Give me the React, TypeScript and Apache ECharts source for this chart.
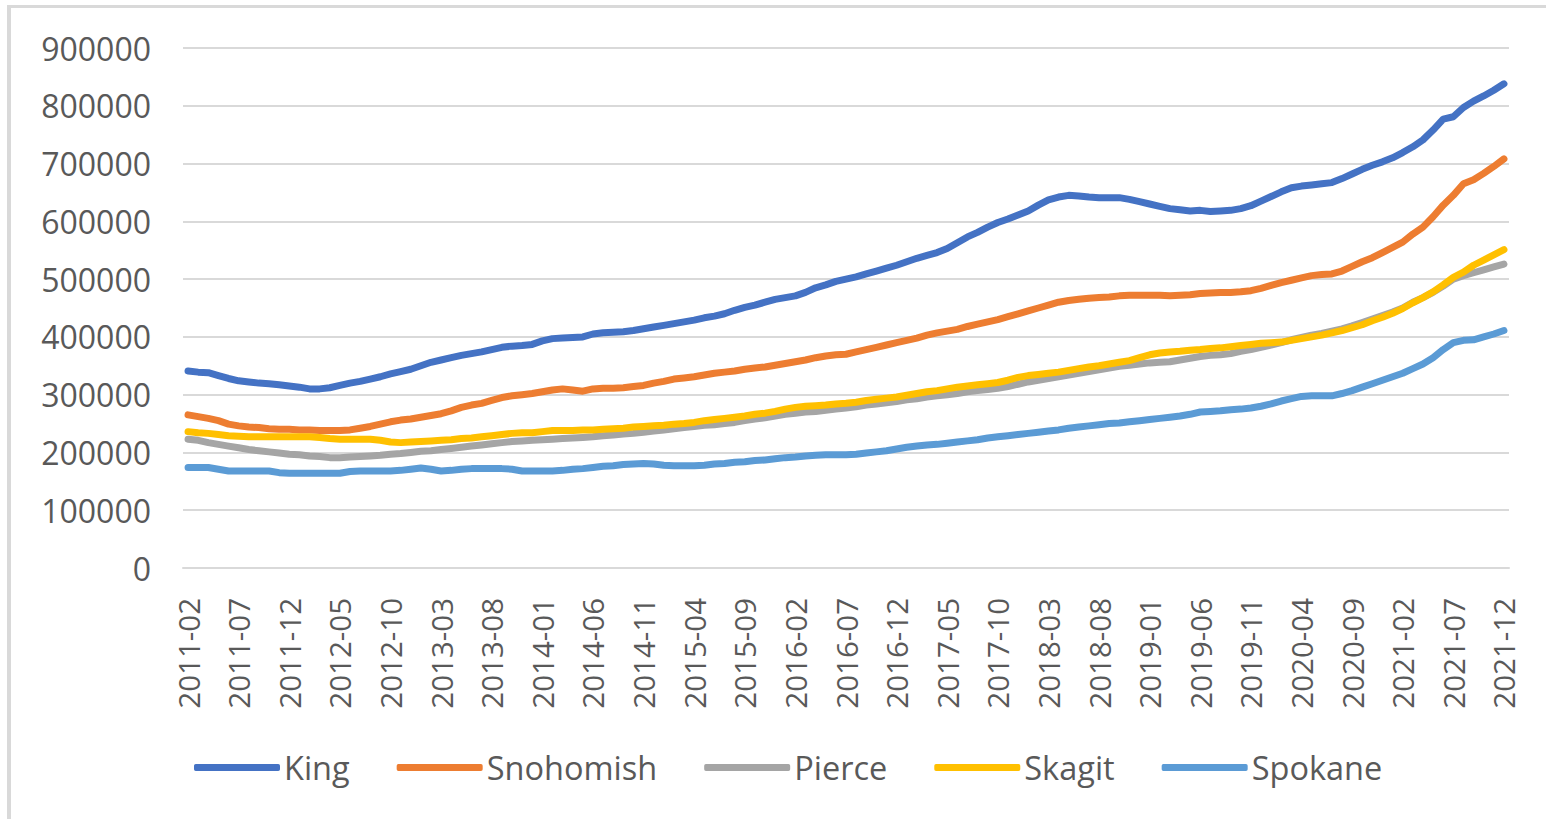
import React, { useEffect, useRef } from "react";
import * as echarts from "echarts";

const months: string[] = (() => {
  const out: string[] = [];
  let y = 2011;
  let m = 2;
  while (y < 2021 || (y === 2021 && m <= 12)) {
    out.push(`${y}-${m < 10 ? "0" + m : m}`);
    m++;
    if (m > 12) { m = 1; y++; }
  }
  return out;
})();

const seriesNames = ["King", "Snohomish", "Pierce", "Skagit", "Spokane"];
const seriesColors = ["#4472C4", "#ED7D31", "#A5A5A5", "#FFC000", "#5B9BD5"];

// values in thousands of dollars
const king = [
  341, 339, 338, 333, 328, 324, 322, 320, 319, 317,
  315, 313, 310, 310, 312, 316, 320, 323, 327, 331,
  336, 340, 344, 350, 356, 360, 364, 368, 371, 374,
  378, 382, 384, 385, 387, 393, 397, 398, 399, 400,
  405, 407, 408, 409, 411, 414, 417, 420, 423, 426,
  429, 433, 436, 440, 446, 451, 455, 460, 465, 468,
  471, 477, 485, 490, 496, 500, 504, 509, 514, 519,
  524, 530, 536, 541, 546, 553, 563, 573, 581, 590,
  598, 604, 611, 618, 628, 637, 642, 645, 644, 642,
  641, 641, 641, 638, 634, 630, 626, 622, 620, 618,
  619, 617, 618, 619, 622, 627, 635, 643, 651, 658,
  661, 663, 665, 667, 674, 682, 690, 697, 703, 710,
  719, 729, 741, 758, 777, 781, 797, 808, 817, 827,
  838,
];

const snohomish = [
  265, 262, 259, 255, 249, 246, 244, 243, 241, 240,
  240, 239, 239, 238, 238, 238, 239, 242, 245, 249,
  253, 256, 258, 261, 264, 267, 272, 278, 282, 285,
  290, 295, 298, 300, 302, 305, 308, 310, 308, 306,
  310, 311, 311, 312, 314, 316, 320, 323, 327, 329,
  331, 334, 337, 339, 341, 344, 346, 348, 351, 354,
  357, 360, 364, 367, 369, 370, 374, 378, 382, 386,
  390, 394, 398, 403, 407, 410, 413, 418, 422, 426,
  430, 435, 440, 445, 450, 455, 460, 463, 465, 467,
  468, 469, 471, 472, 472, 472, 472, 471, 472, 473,
  475, 476, 477, 477, 478, 480, 484, 489, 494, 498,
  502, 506, 508, 509, 514, 522, 530, 537, 546, 555,
  564, 578, 590, 608, 628, 645, 665, 672, 683, 695,
  708,
];

const pierce = [
  223, 221, 217, 214, 211, 208, 205, 203, 201, 199,
  197, 196, 194, 193, 191, 191, 192, 193, 194, 195,
  197, 198, 200, 202, 203, 205, 207, 209, 211, 213,
  215, 217, 219, 220, 221, 222, 223, 224, 225, 226,
  227, 229, 230, 232, 233, 235, 237, 239, 241, 243,
  245, 247, 248, 250, 252, 255, 258, 260, 263, 266,
  268, 270, 271, 273, 275, 277, 279, 282, 284, 286,
  288, 291, 293, 296, 298, 300, 302, 305, 307, 309,
  311, 314, 318, 322, 325, 328, 331, 334, 337, 340,
  343, 346, 349, 351, 353, 355, 356, 357, 360, 363,
  366, 368, 369, 371, 375, 378, 382, 386, 390, 395,
  399, 403, 406, 410, 414, 419, 425, 431, 437, 443,
  450, 460, 468, 477, 488, 500, 506, 511, 516, 521,
  526,
];

const skagit = [
  236, 234, 233, 231, 229, 228, 227, 227, 227, 227,
  227, 227, 227, 226, 224, 223, 223, 223, 223, 221,
  218, 217, 218, 219, 220, 221, 222, 224, 225, 227,
  229, 231, 233, 234, 234, 236, 238, 238, 238, 239,
  239, 240, 241, 242, 244, 245, 246, 247, 249, 250,
  252, 255, 257, 259, 261, 263, 266, 268, 271, 275,
  278, 280, 281, 282, 284, 285, 287, 290, 292, 294,
  296, 299, 302, 305, 307, 310, 313, 315, 317, 319,
  321, 325, 330, 333, 335, 337, 339, 342, 345, 348,
  350, 353, 356, 359, 364, 369, 372, 374, 375, 377,
  378, 380, 381, 383, 385, 387, 389, 390, 391, 394,
  397, 400, 403, 407, 411, 416, 421, 428, 434, 441,
  449, 459, 468, 478, 490, 503, 512, 524, 533, 542,
  551,
];

const spokane = [
  174, 174, 174, 171, 168, 168, 168, 168, 168, 165,
  164, 164, 164, 164, 164, 164, 167, 168, 168, 168,
  168, 169, 171, 173, 171, 168, 169, 171, 172, 172,
  172, 172, 171, 168, 168, 168, 168, 169, 171, 172,
  174, 176, 177, 179, 180, 181, 180, 178, 177, 177,
  177, 178, 180, 181, 183, 184, 186, 187, 189, 191,
  192, 194, 195, 196, 196, 196, 197, 199, 201, 203,
  206, 209, 211, 213, 214, 216, 218, 220, 222, 225,
  227, 229, 231, 233, 235, 237, 239, 242, 244, 246,
  248, 250, 251, 253, 255, 257, 259, 261, 263, 266,
  270, 271, 272, 274, 275, 277, 280, 284, 289, 293,
  297, 298, 298, 298, 302, 307, 313, 319, 325, 331,
  337, 345, 353, 364, 378, 390, 394, 395, 400, 405,
  411,
];

const seriesData = [king, snohomish, pierce, skagit, spokane];
const yTicks = { min: 0, max: 900000, interval: 100000 };

const FONT = "'Open Sans', 'Noto Sans', sans-serif";
const TEXT_COLOR = "#595959";
const GRID_COLOR = "#d9d9d9";

export default function App() {
  const ref = useRef<HTMLDivElement>(null);

  useEffect(() => {
    if (!ref.current) return;
    const chart = echarts.init(ref.current, undefined, { renderer: "svg" });
    chart.setOption({
      animation: false,
      backgroundColor: "#ffffff",
      textStyle: { fontFamily: FONT },
      grid: { left: 183, right: 37, top: 48, bottom: 251, containLabel: false },
      graphic: [
        {
          type: "line",
          shape: { x1: 7, y1: 6.5, x2: 1546, y2: 6.5 },
          style: { stroke: GRID_COLOR, lineWidth: 3 },
          silent: true,
        },
        {
          type: "line",
          shape: { x1: 9, y1: 5, x2: 9, y2: 819 },
          style: { stroke: GRID_COLOR, lineWidth: 4 },
          silent: true,
        },
      ],
      legend: {
        left: 189,
        top: 746,
        icon: "roundRect",
        itemWidth: 86,
        itemHeight: 7,
        itemGap: 47,
        data: seriesNames,
        textStyle: { color: TEXT_COLOR, fontSize: 32.5, fontFamily: FONT, padding: [0, 0, 0, -1] },
      },
      xAxis: {
        type: "category",
        data: months,
        boundaryGap: true,
        axisLine: { show: true, lineStyle: { color: GRID_COLOR, width: 2 } },
        axisTick: { show: false },
        axisLabel: {
          interval: 4,
          rotate: 90,
          margin: 30,
          color: TEXT_COLOR,
          fontSize: 29.5,
          fontFamily: FONT,
        },
        splitLine: { show: false },
      },
      yAxis: {
        type: "value",
        min: yTicks.min,
        max: yTicks.max,
        interval: yTicks.interval,
        axisLine: { show: false },
        axisTick: { show: false },
        axisLabel: {
          margin: 32,
          color: TEXT_COLOR,
          fontSize: 32,
          fontFamily: FONT,
          formatter: (v: number) => String(v),
        },
        splitLine: { show: true, lineStyle: { color: GRID_COLOR, width: 2 } },
      },
      series: seriesNames.map((name, idx) => ({
        name,
        type: "line",
        data: seriesData[idx].map((v) => v * 1000),
        showSymbol: false,
        symbol: "none",
        smooth: false,
        lineStyle: { color: seriesColors[idx], width: 7, cap: "round", join: "round" },
        itemStyle: { color: seriesColors[idx] },
        z: 2 + idx,
      })),
    });
    return () => chart.dispose();
  }, []);

  return (
    <div
      ref={ref}
      style={{ position: "absolute", left: 0, top: 0, width: 1546, height: 819 }}
    />
  );
}
